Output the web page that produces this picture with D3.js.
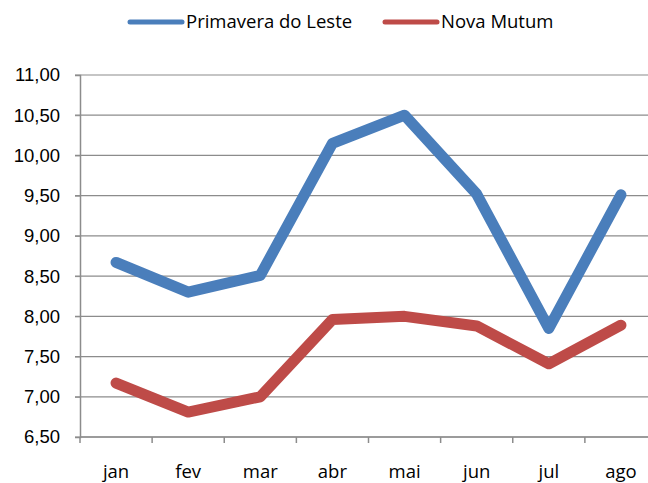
<!DOCTYPE html>
<html>
<head>
<meta charset="utf-8">
<script src="https://cdn.jsdelivr.net/npm/d3@7"></script>
<style>
  body { margin: 0; background: #fff; }
  svg { display: block; font-family: "Open Sans", "Noto Sans", sans-serif; }
</style>
</head>
<body>
<div id="chart"></div>
<script>
const months = ["jan", "fev", "mar", "abr", "mai", "jun", "jul", "ago"];
const primavera = [8.67, 8.30, 8.51, 10.15, 10.50, 9.52, 7.85, 9.51];
const novaMutum = [7.17, 6.81, 7.00, 7.96, 8.00, 7.88, 7.41, 7.89];
const yTicks = [6.5, 7, 7.5, 8, 8.5, 9, 9.5, 10, 10.5, 11];

const series = [
    { name: "Primavera do Leste", values: primavera, color: "#4a7ebb" },
    { name: "Nova Mutum", values: novaMutum, color: "#be4b48" }
];

const width = 648;
const height = 483;
const marginLeft = 80;
const plotRight = 657;   // plot runs slightly past the window edge
const marginTop = 75;
const plotBottom = 437;
const fontSize = 18.5;

const x = d3.scaleBand(months, [marginLeft, plotRight]);
const y = d3.scaleLinear([6.5, 11], [plotBottom, marginTop]);
const fmt = v => d3.format(".2f")(v).replace(".", ",");

const svg = d3.select("#chart").append("svg")
    .attr("width", width)
    .attr("height", height);

// gridlines
svg.append("g")
    .selectAll("line")
    .data(yTicks)
    .join("line")
    .attr("x1", marginLeft - 5)
    .attr("x2", plotRight)
    .attr("y1", d => y(d))
    .attr("y2", d => y(d))
    .attr("stroke", "#8c8c8c")
    .attr("stroke-width", 1.2);

// y axis
const yAxis = svg.append("g")
    .attr("transform", `translate(${marginLeft},0)`)
    .call(d3.axisLeft(y).tickValues(yTicks).tickFormat(fmt).tickSize(5).tickPadding(15));
yAxis.select(".domain").attr("stroke", "#8c8c8c").attr("stroke-width", 1.5);
yAxis.selectAll(".tick line").attr("stroke", "#8c8c8c");
yAxis.selectAll("text")
    .attr("font-size", fontSize)
    .attr("fill", "#000")
    .style("font-family", "inherit");

// x axis: ticks sit on the category borders
const xAxis = svg.append("g")
    .attr("transform", `translate(0,${plotBottom})`);
xAxis.append("line")
    .attr("x1", marginLeft)
    .attr("x2", plotRight)
    .attr("stroke", "#8c8c8c")
    .attr("stroke-width", 1.5);
xAxis.selectAll(".xtick")
    .data(months)
    .join("line")
    .attr("x1", d => x(d))
    .attr("x2", d => x(d))
    .attr("y1", 0)
    .attr("y2", 6)
    .attr("stroke", "#8c8c8c")
    .attr("stroke-width", 1.5);
xAxis.selectAll("text")
    .data(months)
    .join("text")
    .attr("x", d => x(d) + x.bandwidth() / 2)
    .attr("y", 41)
    .attr("text-anchor", "middle")
    .attr("font-size", fontSize)
    .text(d => d);

// lines
const line = d3.line()
    .x((d, i) => x(months[i]) + x.bandwidth() / 2)
    .y(d => y(d));

svg.append("g")
    .selectAll("path")
    .data(series)
    .join("path")
    .attr("fill", "none")
    .attr("stroke", d => d.color)
    .attr("stroke-width", 11)
    .attr("stroke-linecap", "round")
    .attr("stroke-linejoin", "round")
    .attr("d", d => line(d.values));

// legend
const legendItems = [
    { s: series[0], x: 130 },
    { s: series[1], x: 385 }
];
const legend = svg.append("g");
legend.selectAll("line")
    .data(legendItems)
    .join("line")
    .attr("x1", d => d.x)
    .attr("x2", d => d.x + 52)
    .attr("y1", 22)
    .attr("y2", 22)
    .attr("stroke", d => d.s.color)
    .attr("stroke-width", 5)
    .attr("stroke-linecap", "round");
legend.selectAll("text")
    .data(legendItems)
    .join("text")
    .attr("x", d => d.x + 56)
    .attr("y", 28)
    .attr("font-size", fontSize)
    .text(d => d.s.name);
</script>
</body>
</html>
